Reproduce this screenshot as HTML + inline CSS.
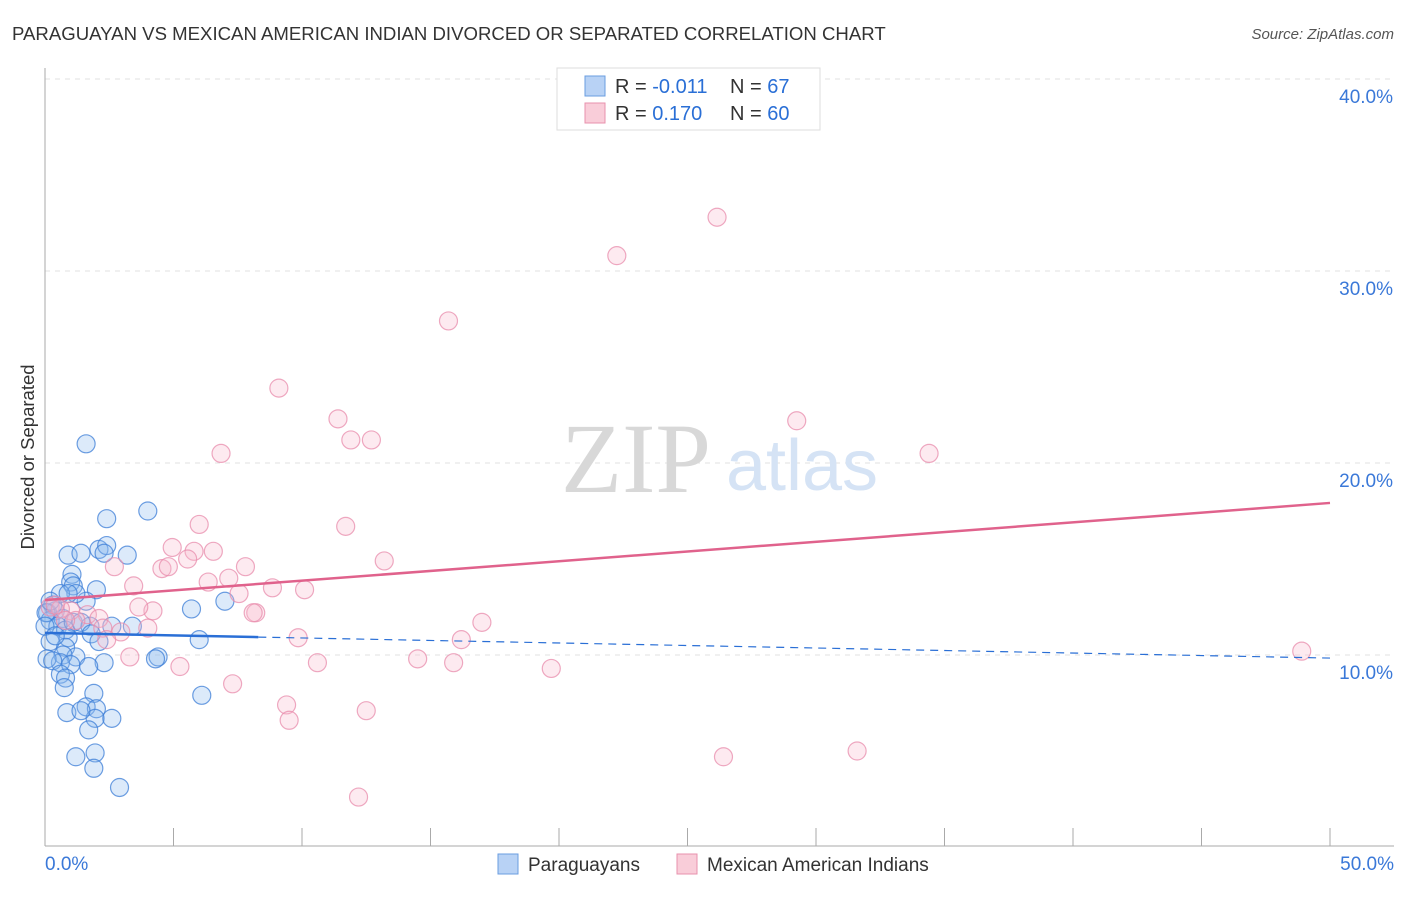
<!DOCTYPE html>
<html><head><meta charset="utf-8"><style>
body{margin:0;background:#fff;font-family:"Liberation Sans",sans-serif;}
svg text{font-family:"Liberation Sans",sans-serif;}
svg text.serif{font-family:"Liberation Serif",serif;}
</style></head><body>
<svg width="1406" height="892" viewBox="0 0 1406 892">
<text x="12" y="40" font-size="18.6" fill="#333">PARAGUAYAN VS MEXICAN AMERICAN INDIAN DIVORCED OR SEPARATED CORRELATION CHART</text>
<text x="1394" y="39" font-size="15" fill="#555" font-style="italic" text-anchor="end">Source: ZipAtlas.com</text>
<g id="grid"></g>
<g id="axes"></g>
<text class="serif" x="636" y="492" font-size="100" fill="#d8d8d8" text-anchor="middle">ZIP</text>
<text x="802" y="490" font-size="72" fill="#d5e3f5" text-anchor="middle">atlas</text>
<g id="blue"></g>
<g id="pink"></g>
<g id="trends"></g>
<text transform="translate(34,457) rotate(-90)" font-size="18.5" fill="#333" text-anchor="middle">Divorced or Separated</text>
<g>
<rect x="557" y="68" width="263" height="62" fill="#fff" stroke="#ddd"/>
<rect x="585" y="76" width="20" height="20" fill="#b8d2f5" stroke="#6a9de0"/>
<rect x="585" y="103" width="20" height="20" fill="#f9cdd9" stroke="#e891ad"/>
<text x="615" y="93" font-size="20" fill="#333">R = <tspan fill="#2a6fd6">-0.011</tspan></text>
<text x="730" y="93" font-size="20" fill="#333">N = <tspan fill="#2a6fd6">67</tspan></text>
<text x="615" y="120" font-size="20" fill="#333">R = <tspan fill="#2a6fd6"> 0.170</tspan></text>
<text x="730" y="120" font-size="20" fill="#333">N = <tspan fill="#2a6fd6">60</tspan></text>
</g>
<g>
<rect x="498" y="854" width="20" height="20" fill="#b8d2f5" stroke="#6a9de0"/>
<text x="528" y="871" font-size="19" fill="#333">Paraguayans</text>
<rect x="677" y="854" width="20" height="20" fill="#f9cdd9" stroke="#e891ad"/>
<text x="707" y="871" font-size="19" fill="#333">Mexican American Indians</text>
</g>
</svg>
<script>
const blueX=[1.6,4.0,2.4,2.1,2.4,2.3,3.2,0.9,1.4,1.05,1.0,1.1,2.0,1.6,1.2,0.6,0.9,0.3,0.4,0.1,0.2,0.04,0.7,0.5,0.8,1.1,1.75,5.7,7.0,3.4,0.9,0.8,0.2,1.2,0.7,0.6,0.08,0.3,6.0,4.4,4.3,2.3,1.7,1.0,0.6,0.8,0.75,1.9,1.6,2.0,1.95,2.6,0.85,1.4,1.7,6.1,1.2,1.95,1.9,2.9,0.0,0.2,0.4,1.4,1.8,2.1,2.6];
const blueY=[21.0,17.5,17.1,15.5,15.7,15.3,15.2,15.2,15.3,14.2,13.8,13.6,13.4,12.8,13.2,13.2,13.2,12.6,12.3,12.2,11.8,12.2,11.9,11.5,11.3,11.7,11.5,12.4,12.8,11.5,10.9,10.4,10.7,9.9,10.0,9.6,9.8,9.7,10.8,9.9,9.8,9.6,9.4,9.5,9.0,8.8,8.3,8.0,7.3,7.2,6.7,6.7,7.0,7.1,6.1,7.9,4.7,4.9,4.1,3.1,11.5,12.8,11.0,11.7,11.1,10.7,11.5];
const pinkX=[26.15,22.25,15.7,9.1,11.4,11.9,12.7,29.25,34.4,6.85,11.7,6.0,4.95,5.8,6.55,5.55,4.55,4.8,7.8,13.2,2.7,3.45,6.35,7.15,7.55,8.85,10.1,4.2,3.65,8.2,8.1,17.0,1.0,1.65,2.1,0.2,0.6,1.2,2.25,2.95,4.0,2.4,9.85,16.2,5.25,3.3,10.6,14.5,15.9,19.7,48.9,7.3,9.4,9.5,12.5,12.2,26.4,31.6,0.4,0.8];
const pinkY=[32.8,30.8,27.4,23.9,22.3,21.2,21.2,22.2,20.5,20.5,16.7,16.8,15.6,15.4,15.4,15.0,14.5,14.6,14.6,14.9,14.6,13.6,13.8,14.0,13.2,13.5,13.4,12.3,12.5,12.2,12.2,11.7,12.3,12.1,11.9,12.5,12.4,11.8,11.4,11.2,11.4,10.8,10.9,10.8,9.4,9.9,9.6,9.8,9.6,9.3,10.2,8.5,7.4,6.6,7.1,2.6,4.7,5.0,12.6,11.8];
const xTicks=[0,5,10,15,20,25,30,35,40,45,50];
const yTicks=[10,20,30,40];
const blueTrend=[0,11.15,50,9.84], blueSolidEnd=8.3;
const pinkTrend=[0,12.86,50,17.92];
const sx=v=>45+v/50*1285, sy=v=>847-v*19.2;
const NS='http://www.w3.org/2000/svg';
function mk(p,t,a){const e=document.createElementNS(NS,t);for(const k in a)e.setAttribute(k,a[k]);p.appendChild(e);return e;}
const grid=document.getElementById('grid'),axes=document.getElementById('axes');
yTicks.forEach(t=>{
 const l=mk(grid,'line',{x1:45,x2:1394,y1:sy(t),y2:sy(t),stroke:'#e2e2e2','stroke-dasharray':'5,5'});
 
 
 const tx=mk(axes,'text',{x:1393,y:sy(t)+24,'font-size':19,fill:'#3a78d8','text-anchor':'end'});tx.textContent=t.toFixed(1)+'%';
 
 
});
mk(axes,'line',{x1:45,x2:45,y1:68,y2:846,stroke:'#aaa'});
mk(axes,'line',{x1:45,x2:1394,y1:846,y2:846,stroke:'#aaa'});
xTicks.forEach(t=>{const l=mk(axes,'line',{x1:sx(t),x2:sx(t),y1:828,y2:846,stroke:'#aaa'});
 
 });
const x0=mk(axes,'text',{x:45,y:870,'font-size':19,fill:'#3a78d8'});x0.textContent='0.0%';


const x1=mk(axes,'text',{x:1394,y:870,'font-size':19,fill:'#3a78d8','text-anchor':'end'});x1.textContent='50.0%';


const bg=document.getElementById('blue');
blueX.forEach((x,i)=>{const c=mk(bg,'circle',{cx:sx(x),cy:sy(blueY[i]),r:9,fill:'rgba(140,185,240,0.3)',stroke:'rgba(60,125,215,0.75)','stroke-width':1.2});
 
 });
const pg=document.getElementById('pink');
pinkX.forEach((x,i)=>{const c=mk(pg,'circle',{cx:sx(x),cy:sy(pinkY[i]),r:9,fill:'rgba(248,185,205,0.3)',stroke:'rgba(232,140,172,0.75)','stroke-width':1.2});
 
 });
const tg=document.getElementById('trends');
const by=x=>blueTrend[1]+(blueTrend[3]-blueTrend[1])*(x-blueTrend[0])/(blueTrend[2]-blueTrend[0]);
const l1=mk(tg,'line',{x1:sx(0),y1:sy(by(0)),x2:sx(blueSolidEnd),y2:sy(by(blueSolidEnd)),stroke:'#2a6fd6','stroke-width':2.5});


const l2=mk(tg,'line',{x1:sx(blueSolidEnd),y1:sy(by(blueSolidEnd)),x2:sx(50),y2:sy(by(50)),stroke:'#2a6fd6','stroke-width':1.2,'stroke-dasharray':'8,6'});


const l3=mk(tg,'line',{x1:sx(pinkTrend[0]),y1:sy(pinkTrend[1]),x2:sx(pinkTrend[2]),y2:sy(pinkTrend[3]),stroke:'#e0628c','stroke-width':2.5});


</script>
</body></html>
